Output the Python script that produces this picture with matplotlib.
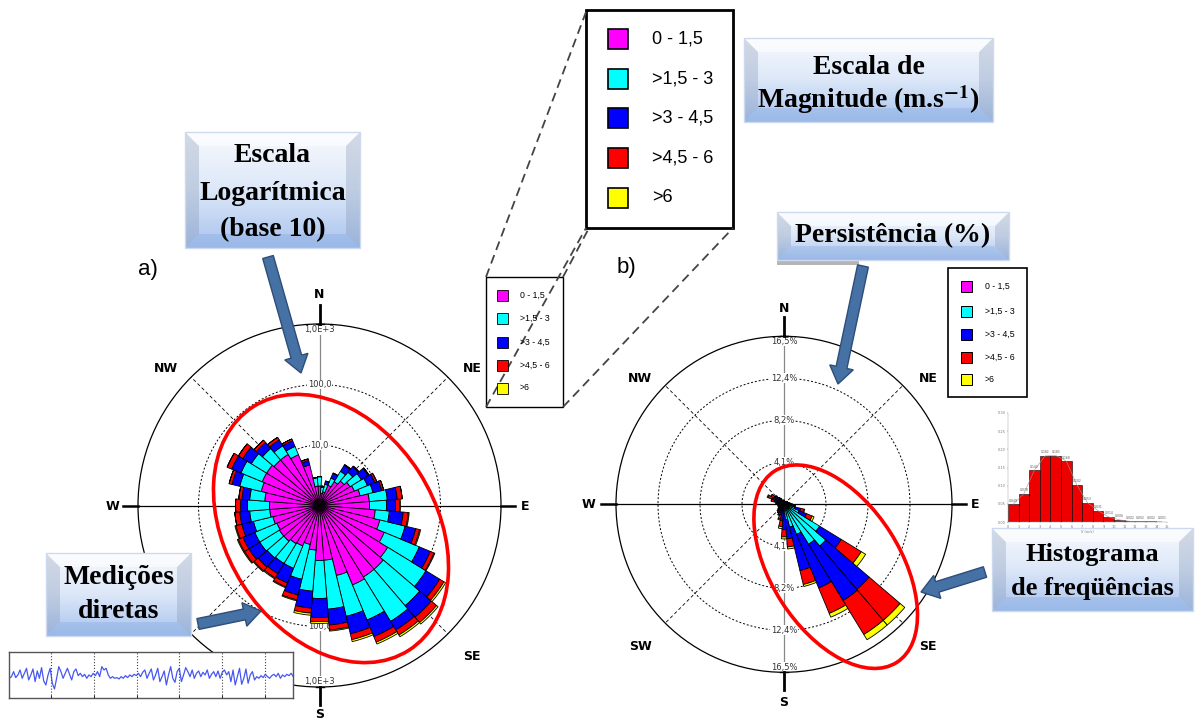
import numpy as np
import matplotlib.pyplot as plt
from matplotlib.patches import Ellipse, Rectangle, Polygon, FancyArrow
from matplotlib.colors import LinearSegmentedColormap

plt.rcParams['mathtext.fontset'] = 'stix'

LARG, ALT = 1202, 724

classes = ["0 - 1,5", ">1,5 - 3", ">3 - 4,5", ">4,5 - 6", ">6"]
cores = ["#ff00ff", "#00ffff", "#0000ff", "#ff0000", "#ffff00"]

direcoes = np.arange(0, 360, 9)  # 40 setores de 9 graus

# a) frequencia acumulada por classe (escala log10)
a_ate_1_5 = [2.1, 1.6, 1.7, 2.3, 2.9, 3.4, 3.9, 4.2, 4.9, 6.7,
             6.7, 8.4, 10.6, 14.4, 21.0, 24.4, 24.4, 26.4, 15.5, 8.1,
             8.1, 5.5, 4.6, 5.3, 5.5, 6.0, 6.0, 5.8, 6.2, 6.7,
             6.7, 8.1, 9.8, 10.6, 10.6, 9.8, 9.8, 8.1, 4.9, 2.1]
a_ate_3 = [3.0, 2.0, 2.3, 3.1, 4.6, 5.3, 6.5, 7.2, 8.1, 13.3,
           12.8, 14.4, 28.5, 61, 116, 151, 177, 112, 76.6, 52.4,
           34.4, 26.4, 18.0, 13.3, 13.3, 13.8, 14.4, 14.4, 13.3, 14.4,
           15.5, 14.4, 22.7, 25.4, 21.0, 17.4, 14.4, 11.4, 4.9, 2.9]
a_ate_4_5 = [3.0, 2.1, 2.6, 3.8, 6.0, 7.0, 8.8, 9.8, 11.4, 19.4,
             18.0, 24.4, 43.3, 96, 214, 269, 259, 222, 152, 96,
             71, 50.4, 33.2, 24.4, 21.0, 21.8, 23.5, 23.5, 21.0, 21.0,
             20.2, 19.4, 30.7, 37.2, 30.7, 23.5, 18.7, 14.4, 5.8, 2.9]
a_ate_6 = [3.0, 2.1, 2.6, 3.8, 6.2, 7.2, 9.1, 10.6, 12.3, 23.5,
           21.0, 29.6, 50.4, 112, 259, 351, 325, 279, 191, 116,
           83, 61, 40.1, 28.5, 25.4, 26.4, 28.5, 28.5, 26.4, 25.4,
           24.4, 21.8, 34.4, 45, 37.2, 26.4, 21.0, 15.5, 6.2, 2.9]
a_total = [3.0, 2.1, 2.6, 3.8, 6.2, 7.2, 9.1, 10.6, 12.3, 23.5,
           21.8, 30.7, 52.4, 116, 279, 378, 351, 301, 206, 121,
           89, 66, 41.7, 29.6, 26.4, 27.4, 29.6, 29.6, 27.4, 25.4,
           24.4, 21.8, 34.4, 45, 37.2, 26.4, 21.0, 15.5, 6.2, 2.9]

# b) persistencia acumulada (%) por classe
b_ate_1_5 = [0.2, 0.2, 0.1, 0.1, 0.1, 0.2, 0.2, 0.2, 0.2, 0.2,
             0.2, 0.3, 0.4, 0.5, 0.6, 0.6, 0.5, 0.4, 0.3, 0.3,
             0.2, 0.2, 0.2, 0.2, 0.2, 0.2, 0.2, 0.2, 0.2, 0.2,
             0.2, 0.2, 0.2, 0.2, 0.2, 0.2, 0.2, 0.2, 0.2, 0.2]
b_ate_3 = [0.3, 0.3, 0.2, 0.2, 0.2, 0.3, 0.3, 0.3, 0.4, 0.4,
           0.5, 0.7, 1.1, 1.6, 4.1, 5.4, 4.6, 3.2, 2.3, 1.5,
           0.9, 0.6, 0.5, 0.4, 0.4, 0.4, 0.3, 0.3, 0.3, 0.3,
           0.3, 0.4, 0.5, 0.6, 0.6, 0.5, 0.4, 0.3, 0.3, 0.3]
b_ate_4_5 = [0.4, 0.3, 0.3, 0.3, 0.3, 0.4, 0.4, 0.4, 0.5, 0.6,
             0.7, 1.0, 1.7, 2.4, 6.6, 11.0, 11.1, 8.9, 6.7, 3.4,
             2.5, 1.6, 1.1, 0.9, 0.8, 0.7, 0.6, 0.5, 0.5, 0.5,
             0.5, 0.7, 1.0, 1.3, 1.2, 0.9, 0.7, 0.5, 0.4, 0.4]
b_ate_6 = [0.4, 0.3, 0.3, 0.3, 0.3, 0.4, 0.4, 0.4, 0.5, 0.6,
           0.8, 1.1, 2.0, 3.0, 8.9, 15.0, 15.0, 11.6, 8.1, 4.2,
           3.2, 2.2, 1.5, 1.1, 1.0, 0.9, 0.7, 0.6, 0.6, 0.6,
           0.6, 0.8, 1.3, 1.7, 1.5, 1.1, 0.8, 0.6, 0.4, 0.4]
b_total = [0.4, 0.3, 0.3, 0.3, 0.3, 0.4, 0.4, 0.4, 0.5, 0.6,
           0.8, 1.1, 2.1, 3.2, 9.4, 15.6, 15.6, 12.0, 8.3, 4.4,
           3.4, 2.4, 1.6, 1.2, 1.0, 0.9, 0.7, 0.6, 0.6, 0.6,
           0.6, 0.8, 1.3, 1.8, 1.5, 1.1, 0.8, 0.6, 0.4, 0.4]

aneis_a = [10, 100]
rotulos_a = ["10,0", "100,0", "1,0E+3"]
aneis_b = [4.125, 8.25, 12.375]
rotulos_b = ["4,1%", "8,2%", "12,4%", "16,5%"]

# histograma de frequencias (velocidade m/s)
hist_freq = [0.049, 0.078, 0.143, 0.182, 0.183, 0.168, 0.102, 0.053,
             0.031, 0.014, 0.006, 0.002, 0.002, 0.002, 0.001]

# serie temporal (medicoes diretas)
sinal = [-5, 0, 15, -3, 5, 20, -5, 10, 25, -10, 5, 23, -15,
         17, -5, 27, -13, -25, 5, 25, -20, -37, -5,
         30, 15, -5, 10, 25, 7, -10, 15, 23, 3, 10, 0, 7, -5, 5, 0, 10, 3, 15, 0,
         30, 20, 25, 5, -5, 0, -5, -3, -7, 0, -5, 3, -3, 5, 0, 7, 3, 10, 0, 13,
         20, -5, 10, 23, -10, 5, 25, -15, 0, 17, -25, 5, 30, -5, -17, 15, 25, -15, 5, 27,
         15, 0, 20, -5, 10, 17, 0, 13, 5, 20, -5, 7, 15, 0, 17, -5, 13, 20, 5, 15,
         -15, 20, -25, 0, 25, -23, -5, 23, -20, 5, 15, -10, 0, -5, 3, -3, 7, 0, -5,
         3, 7, 0, 10, -5, 5, 0, 7, 3, 10, 0]


def rosa(rect, acumulados, escala_log, rmax):
    ax = fig.add_axes(rect, projection='polar', zorder=1)
    ax.set_theta_zero_location('N')
    ax.set_theta_direction(-1)
    if escala_log:
        ax.set_rscale('log')
        r0 = 1
    else:
        r0 = 0
    ax.set_rlim(r0, rmax)
    ax.set_xticks([])
    ax.set_yticks([])
    ax.set_yticks([], minor=True)
    ax.grid(False)
    ax.spines['polar'].set_linewidth(0.9)
    t = np.linspace(0, 2 * np.pi, 361)
    for ang in [45, 135, 225, 315]:
        ax.plot([np.deg2rad(ang)] * 2, [r0, rmax], color='k', lw=0.6,
                ls=(0, (4, 3)), zorder=1)
    ax.plot([0, 0], [r0, rmax], color='#888888', lw=0.9, zorder=1)
    ax.plot([np.pi, np.pi], [r0, rmax], color='#888888', lw=0.9, zorder=1)
    ax.plot([np.pi / 2] * 2, [r0, rmax], color='k', lw=0.9, zorder=1)
    ax.plot([3 * np.pi / 2] * 2, [r0, rmax], color='k', lw=0.9, zorder=1)
    theta = np.deg2rad(direcoes)
    base = np.full(len(direcoes), float(r0))
    for cum, cor in zip(acumulados, cores):
        cum = np.array(cum, dtype=float)
        ax.bar(theta, cum - base, bottom=base, width=np.deg2rad(9),
               color=cor, edgecolor='black', linewidth=0.6, zorder=3)
        base = cum
    return ax, t


fig = plt.figure(figsize=(LARG / 100, ALT / 100), dpi=100)
fig.patch.set_facecolor('white')

# ---- rosa a) ----
cxa, cya, Ra = 319.5, 505.5, 181.5
rect_a = [(cxa - Ra) / LARG, (ALT - cya - Ra) / ALT, 2 * Ra / LARG, 2 * Ra / ALT]
axa, t = rosa(rect_a, [a_ate_1_5, a_ate_3, a_ate_4_5, a_ate_6, a_total], True, 1000)
for r in aneis_a:
    axa.plot(t, np.full_like(t, r), color='k', lw=0.7, ls=(0, (2, 2)), zorder=1)
for ang in [0, np.pi]:
    for r, lab in zip([10, 100, 800], rotulos_a):
        axa.text(ang, r, lab, ha='center', va='center', fontsize=6, color='#333333',
                 bbox=dict(fc='white', ec='none', pad=0.3), zorder=2)

# ---- rosa b) ----
cxb, cyb, Rb = 784, 504.3, 168
rect_b = [(cxb - Rb) / LARG, (ALT - cyb - Rb) / ALT, 2 * Rb / LARG, 2 * Rb / ALT]
axb, t = rosa(rect_b, [b_ate_1_5, b_ate_3, b_ate_4_5, b_ate_6, b_total], False, 16.5)
for r in aneis_b:
    axb.plot(t, np.full_like(t, r), color='k', lw=0.7, ls=(0, (2, 2)), zorder=1)
for ang in [0, np.pi]:
    for r, lab in zip(aneis_b + [16.0], rotulos_b):
        axb.text(ang, r, lab, ha='center', va='center', fontsize=6, color='#333333',
                 bbox=dict(fc='white', ec='none', pad=0.3), zorder=2)

# ---- camada de anotacoes (coordenadas em pixel) ----
ax = fig.add_axes([0, 0, 1, 1], zorder=5)
ax.set_xlim(0, LARG)
ax.set_ylim(ALT, 0)
ax.set_autoscale_on(False)
ax.axis('off')
ax.patch.set_alpha(0)

pontos_a = {"N": (319.5, 295), "S": (319.5, 715), "W": (112, 506), "E": (525, 506),
            "NW": (166, 369), "NE": (472, 369), "SE": (472, 657)}
pontos_b = {"N": (784, 308), "S": (784, 703), "W": (588, 504), "E": (975, 504),
            "NW": (640, 378), "NE": (928, 378), "SW": (640, 647), "SE": (928, 647)}
for d in (pontos_a, pontos_b):
    for lab, (x, y) in d.items():
        ax.text(x, y, lab, ha='center', va='center', fontsize=9,
                fontweight='heavy', family='DejaVu Sans')

for cx, cy, R in [(cxa, cya, Ra), (cxb, cyb, Rb)]:
    ax.plot([cx, cx], [cy - R - 19, cy - R], color='k', lw=2)
    ax.plot([cx, cx], [cy + R, cy + R + 18], color='k', lw=2)
    ax.plot([cx - 4, cx + 4], [cy - R, cy - R], color='k', lw=1)
    ax.plot([cx - 4, cx + 4], [cy + R, cy + R], color='k', lw=1)
    ax.plot([cx - R - 15, cx - R], [cy, cy], color='k', lw=1.8)
    ax.plot([cx + R, cx + R + 14], [cy, cy], color='k', lw=1.8)

ax.text(148, 270, "a)", ha='center', va='center', fontsize=16, family='Liberation Sans')
ax.text(626, 267, "b)", ha='center', va='center', fontsize=16, family='Liberation Sans')

# elipses vermelhas
ax.add_patch(Ellipse((331, 528.5), 289, 209, angle=57.4, fill=False, ec='red', lw=2.6, zorder=4))
ax.add_patch(Ellipse((835.7, 566.7), 227, 129, angle=57.4, fill=False, ec='red', lw=2.6, zorder=4))

# caixas de texto
cmap_caixa = LinearSegmentedColormap.from_list('caixa', ['#f8fafe', '#dce7f8', '#a9c4ee'])


def caixa(x0, y0, x1, y1, linhas, ys, fs=20):
    grad = np.linspace(0, 1, 64).reshape(-1, 1)
    ax.imshow(grad, cmap=cmap_caixa, extent=(x0, x1, y1, y0), aspect='auto',
              interpolation='bilinear', zorder=6)
    b = min(14, (y1 - y0) * 0.3)
    ax.add_patch(Polygon([(x0, y0), (x0 + b, y0 + b), (x0 + b, y1 - b), (x0, y1)],
                         fc='#7d8fae', alpha=0.3, ec='none', zorder=6.1))
    ax.add_patch(Polygon([(x1, y0), (x1 - b, y0 + b), (x1 - b, y1 - b), (x1, y1)],
                         fc='#7d8fae', alpha=0.3, ec='none', zorder=6.1))
    ax.add_patch(Polygon([(x0, y0), (x1, y0), (x1 - b, y0 + b), (x0 + b, y0 + b)],
                         fc='white', alpha=0.5, ec='none', zorder=6.1))
    ax.add_patch(Polygon([(x0, y1), (x1, y1), (x1 - b, y1 - b), (x0 + b, y1 - b)],
                         fc='#7aa0dc', alpha=0.3, ec='none', zorder=6.1))
    ax.add_patch(Rectangle((x0, y0), x1 - x0, y1 - y0, fill=False, ec='#cdd9ee',
                           lw=1, zorder=6.2))
    xc = (x0 + x1) / 2
    for lin, y in zip(linhas, ys):
        ax.text(xc, y, lin, ha='center', va='center', fontsize=fs, fontweight='bold',
                family='Liberation Serif', zorder=7)


caixa(185, 132, 360, 248, ["Escala", "Logarítmica", "(base 10)"], [156, 193, 230])
caixa(744, 38, 993, 122, ["Escala de", "Magnitude (m.s$^{\\mathbf{-1}}$)"], [67, 100])
ax.add_patch(Rectangle((777, 260), 82, 5, fc='#b5b5b5', ec='none', zorder=5.9))
caixa(777, 212, 1009, 260, ["Persistência (%)"], [236])
caixa(46, 553, 191, 636, ["Medições", "diretas"], [578, 611])
caixa(992, 528, 1193, 611, ["Histograma", "de freqüências"], [555, 589], fs=19)

# setas
seta = dict(length_includes_head=True, fc='#4571a5', ec='#2e4d78', lw=1, zorder=8)
for (x0, y0), (x1, y1) in [((268, 257), (301, 373)), ((198, 624), (261, 611)),
                           ((863, 266), (838, 384)), ((985, 572), (921, 592))]:
    ax.add_patch(FancyArrow(x0, y0, x1 - x0, y1 - y0, width=11, head_width=24,
                            head_length=17, **seta))

# legendas
ax.plot([486, 586], [277, 12], color='#444444', lw=1.3, ls=(0, (5, 3)), zorder=8)
ax.plot([486, 586], [407, 228], color='#444444', lw=1.3, ls=(0, (5, 3)), zorder=8)
ax.plot([563, 589], [277, 228], color='#444444', lw=1.3, ls=(0, (5, 3)), zorder=8)
ax.plot([563, 733], [407, 228], color='#444444', lw=1.3, ls=(0, (5, 3)), zorder=8)


def legenda(x0, y0, w, h, xq, lq, ys, xt, fs, lw):
    ax.add_patch(Rectangle((x0, y0), w, h, fc='white', ec='black', lw=lw, zorder=7.5))
    for lab, cor, y in zip(classes, cores, ys):
        ax.add_patch(Rectangle((xq, y - lq / 2), lq, lq, fc=cor, ec='black',
                               lw=lw * 0.6, zorder=9))
        ax.text(xt, y, lab, va='center', ha='left', fontsize=fs,
                family='Liberation Sans', zorder=9)


legenda(586, 10, 147, 218, 608, 20, [39, 79, 118, 158, 198], 652, 13, 2)
legenda(486, 277, 77, 130, 497, 11, [295, 318, 342, 365, 388], 520, 6.3, 1)
legenda(948, 268, 79, 129, 961, 11, [286, 311, 334, 357, 379], 985, 6.3, 1.2)

# ---- histograma ----
axh = fig.add_axes([1008 / LARG, (ALT - 522) / ALT, 159 / LARG, 109 / ALT], zorder=6)
x_h = np.arange(len(hist_freq))
axh.bar(x_h, hist_freq, width=1, align='edge', color='#ee0000', edgecolor='black', lw=0.4)
axh.plot(x_h + 0.5, hist_freq, color='#999999', lw=0.4)
for xi, f in zip(x_h, hist_freq):
    axh.text(xi + 0.5, f + 0.004, f"{f:.3f}".replace('.', ','), ha='center',
             va='bottom', fontsize=2.2, color='#555555')
axh.set_xlim(0, 15)
axh.set_ylim(0, 0.30)
axh.set_xticks(range(0, 16))
axh.set_yticks(np.arange(0, 0.31, 0.05))
axh.tick_params(labelsize=2.5, length=1, width=0.3, colors='#777777', pad=1)
axh.set_yticklabels([f"{v:.2f}".replace('.', ',') for v in np.arange(0, 0.31, 0.05)])
axh.set_xlabel("V (m/s)", fontsize=2.5, color='#777777', labelpad=1)
for s in axh.spines.values():
    s.set_linewidth(0.3)
    s.set_color('#999999')
axh.spines['top'].set_visible(False)
axh.spines['right'].set_visible(False)

# ---- serie temporal ----
axs = fig.add_axes([9.3 / LARG, (ALT - 698.3) / ALT, 284 / LARG, 46 / ALT], zorder=6)
x_s = np.linspace(0, 1, len(sinal))
axs.plot(x_s, sinal, color='#3345ee', lw=0.9, alpha=0.9)
axs.set_xlim(0, 1)
axs.set_ylim(-65, 73)
axs.set_xticks(np.arange(0.146, 0.95, 0.151))
axs.set_yticks([])
axs.tick_params(labelbottom=False, length=2, width=0.6, direction='in')
axs.grid(axis='x', ls=':', color='#444444', lw=0.8)
for s in axs.spines.values():
    s.set_linewidth(1)
    s.set_color('#555555')

fig.savefig("out.png", dpi=100, facecolor='white')
